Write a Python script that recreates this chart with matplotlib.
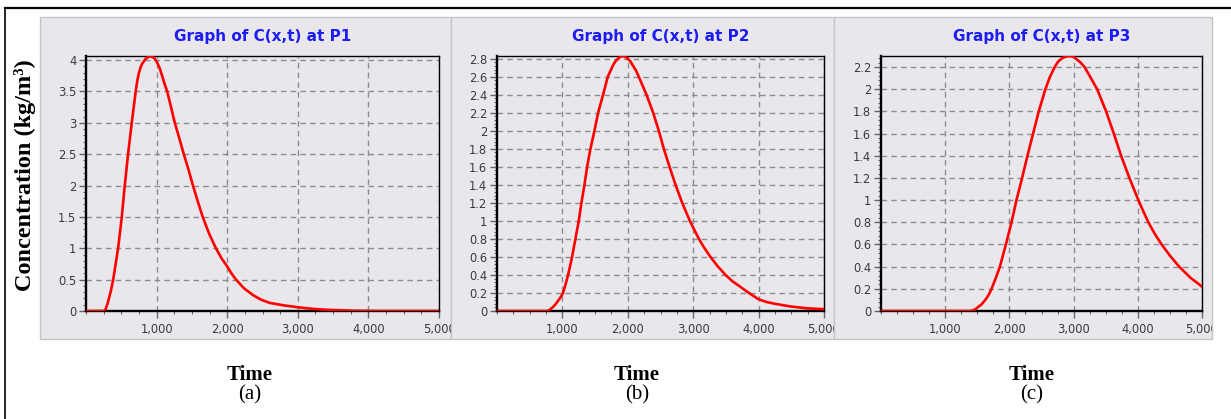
import numpy as np
import matplotlib
matplotlib.use("Agg")
import matplotlib.pyplot as plt
from matplotlib.patches import Rectangle
from matplotlib.lines import Line2D
from matplotlib.transforms import Bbox, TransformedBbox
from matplotlib.ticker import MultipleLocator, FuncFormatter

# values
t1 = [0, 250, 275, 300, 325, 352, 385, 420, 455, 507, 549, 596, 648, 704, 725, 750,
      775, 800, 845, 880, 915, 960, 1000, 1040, 1075, 1110, 1150, 1200, 1258, 1320,
      1385, 1450, 1515, 1585, 1653, 1745, 1840, 1920, 2000, 2060, 2125, 2240, 2370,
      2480, 2600, 2800, 3000, 3200, 3400, 3600, 3800, 4100, 5000]
c1 = [0, 0, 0.02, 0.1, 0.2, 0.32, 0.5, 0.75, 1.0, 1.5, 2.0, 2.5, 3.0, 3.5, 3.66, 3.8,
      3.89, 3.95, 4.02, 4.05, 4.06, 4.04, 3.98, 3.88, 3.76, 3.63, 3.5, 3.27, 3.0, 2.76,
      2.5, 2.26, 2.0, 1.74, 1.5, 1.23, 1.0, 0.84, 0.71, 0.6, 0.5, 0.36, 0.25,
      0.18, 0.13, 0.09, 0.06, 0.035, 0.02, 0.012, 0.005, 0.0, 0]

t2 = [0, 765, 800, 850, 890, 930, 970, 1010, 1050, 1087, 1148, 1199, 1250, 1291,
      1337, 1378, 1429, 1490, 1546, 1622, 1694, 1776, 1810, 1850, 1890, 1929, 1965,
      2000, 2040, 2080, 2125, 2168, 2286, 2388, 2474, 2551, 2638, 2730, 2832, 2949,
      3087, 3170, 3265, 3370, 3495, 3600, 3699, 3775, 3852, 4000, 4120, 4250, 4370,
      4490, 4740, 5000]
c2 = [0, 0, 0.01, 0.04, 0.07, 0.11, 0.15, 0.2, 0.3, 0.4, 0.6, 0.8, 1.0, 1.2,
      1.4, 1.6, 1.8, 2.0, 2.2, 2.4, 2.6, 2.73, 2.77, 2.8, 2.825, 2.83, 2.82,
      2.8, 2.77, 2.72, 2.67, 2.6, 2.4, 2.2, 2.0, 1.8, 1.6, 1.4, 1.2, 1.0,
      0.8, 0.7, 0.6, 0.5, 0.4, 0.33, 0.28, 0.24, 0.2, 0.13, 0.1, 0.08, 0.065,
      0.05, 0.03, 0.02]

t3 = [0, 1386, 1430, 1480, 1520, 1567, 1610, 1650, 1690, 1722, 1790, 1852, 1945,
      2033, 2110, 2198, 2281, 2369, 2457, 2560, 2630, 2705, 2760, 2820, 2880, 2938,
      2990, 3050, 3110, 3171, 3270, 3367, 3507, 3626, 3740, 3869, 4009, 4085, 4164,
      4260, 4371, 4500, 4645, 4820, 5000]
c3 = [0, 0, 0.005, 0.02, 0.04, 0.06, 0.09, 0.12, 0.16, 0.2, 0.3, 0.4, 0.6,
      0.8, 1.0, 1.2, 1.4, 1.6, 1.8, 2.0, 2.11, 2.2, 2.25, 2.28, 2.295, 2.30,
      2.295, 2.27, 2.24, 2.2, 2.1, 2.0, 1.8, 1.6, 1.4, 1.2, 1.0, 0.9, 0.8,
      0.7, 0.6, 0.5, 0.4, 0.3, 0.22]

titles = ["Graph of C(x,t) at P1", "Graph of C(x,t) at P2", "Graph of C(x,t) at P3"]
captions = ["(a)", "(b)", "(c)"]
y_tops = [4.065, 2.83, 2.30]
y_steps = [0.5, 0.2, 0.2]
y_max_ticks = [4.0, 2.8, 2.2]
x_ticks = [1000, 2000, 3000, 4000, 5000]

W, H = 1231, 419
fig = plt.figure(figsize=(W / 100, H / 100), dpi=100)

def fx(px):
    return px / W

def fy(py):
    return 1 - py / H

# panel boxes (gray) and axes boxes, in pixels
panels = [(40, 451), (451, 834), (834, 1212)]
axes_px = [(86, 439), (497, 824), (881, 1202)]
panel_top, panel_bot = 17, 339
ax_top, ax_bot = 56, 311
bg = "#e9e7ec"

# outer frame
fig.add_artist(Line2D([fx(5), 1.0], [fy(8), fy(8)], color="black", lw=1.6))
fig.add_artist(Line2D([fx(5), fx(5)], [fy(8), 0], color="black", lw=1.2))

data = [(t1, c1), (t2, c2), (t3, c3)]
for i, ((t, c), (p0, p1), (a0, a1)) in enumerate(zip(data, panels, axes_px)):
    fig.add_artist(Rectangle((fx(p0), fy(panel_bot)), fx(p1 - p0), (panel_bot - panel_top) / H,
                             transform=fig.transFigure, facecolor=bg, edgecolor="#c4c4c4",
                             lw=1.0, zorder=-1))
    ax = fig.add_axes([fx(a0), fy(ax_bot), fx(a1 - a0), (ax_bot - ax_top) / H])
    ax.set_facecolor(bg)
    ax.plot(t, c, color="red", lw=1.9, zorder=3, solid_joinstyle="round")

    ax.set_xlim(0, 5000)
    ax.set_ylim(0, y_tops[i])
    ax.set_xticks(x_ticks)
    ax.xaxis.set_minor_locator(MultipleLocator(250))
    ax.set_xticklabels([f"{v:,}" for v in x_ticks])
    yt = np.round(np.arange(0, y_max_ticks[i] + 1e-9, y_steps[i]), 2)
    ax.set_yticks(yt)
    ax.yaxis.set_major_formatter(FuncFormatter(lambda v, p: f"{v:g}"))
    ax.yaxis.set_minor_locator(MultipleLocator(y_steps[i] / 5))

    ax.grid(True, which="major", color="#8c8c8c", linestyle=(0, (4, 3)), lw=1.0)
    ax.set_axisbelow(True)
    ax.tick_params(which="major", direction="out", length=5, width=1.0, color="#666666",
                   labelsize=8.3, labelcolor="#3a3a3a")
    ax.tick_params(which="minor", direction="out", length=2.5, width=0.8, color="#666666")
    ax.tick_params(axis="x", which="major", pad=4)
    ax.tick_params(axis="y", which="major", pad=2)
    ax.tick_params(axis="y", which="minor", length=2)
    for side in ["left", "bottom"]:
        ax.spines[side].set_linewidth(1.7)
    for side in ["top", "right"]:
        ax.spines[side].set_linewidth(1.0)

    clip = TransformedBbox(Bbox.from_extents(fx(p0), fy(panel_bot), fx(p1), fy(panel_top)),
                           fig.transFigure)
    for lbl in ax.get_xticklabels():
        lbl.set_clip_box(clip)
        lbl.set_clip_on(True)

    ax.set_title(titles[i], color="#1c1cf5", fontsize=11, fontweight="bold",
                 fontfamily="DejaVu Sans", pad=11)

    cx = [250, 637, 1032][i]
    fig.text(fx(cx), fy(380), "Time", ha="center", va="baseline",
             fontsize=15, fontweight="bold", fontfamily="Liberation Serif")
    fig.text(fx(cx), fy(399), captions[i], ha="center", va="baseline",
             fontsize=15, fontfamily="Liberation Serif")

fig.text(fx(25), fy(175), "Concentration (kg/m\u00b3)", rotation=90, ha="center",
         va="center", fontsize=17.5, fontweight="bold", fontfamily="Liberation Serif")

fig.savefig("out.png", dpi=100)
